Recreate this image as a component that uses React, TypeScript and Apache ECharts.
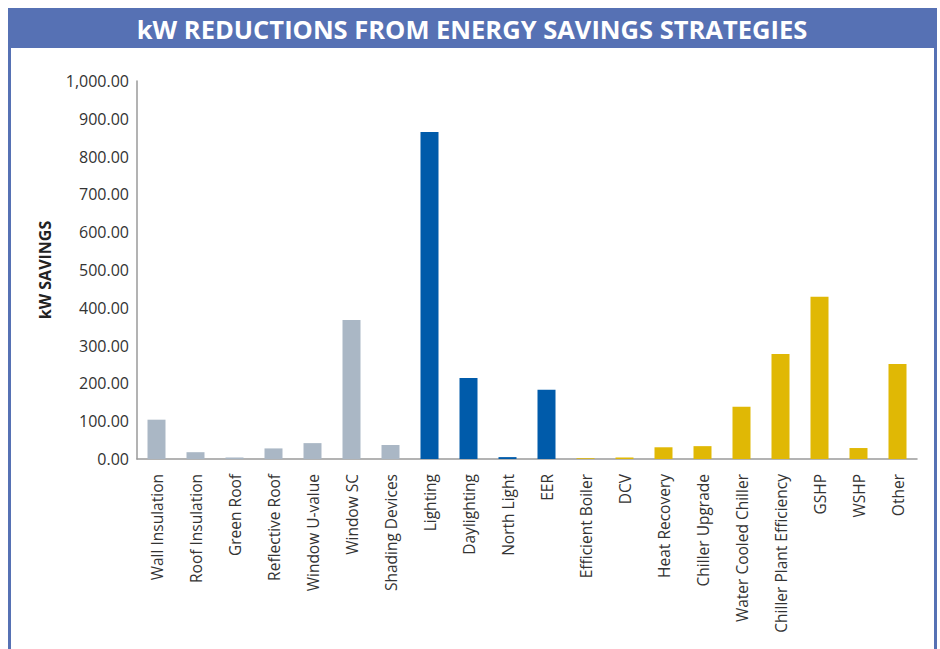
import React, { useEffect, useRef } from "react";
import * as echarts from "echarts";

const titleText = "kW REDUCTIONS FROM ENERGY SAVINGS STRATEGIES";
const yAxisName = "kW SAVINGS";

const categories = [
  "Wall Insulation",
  "Roof Insulation",
  "Green Roof",
  "Reflective Roof",
  "Window U-value",
  "Window SC",
  "Shading Devices",
  "Lighting",
  "Daylighting",
  "North Light",
  "EER",
  "Efficient Boiler",
  "DCV",
  "Heat Recovery",
  "Chiller Upgrade",
  "Water Cooled Chiller",
  "Chiller Plant Efficiency",
  "GSHP",
  "WSHP",
  "Other",
];

const values = [
  104, 18, 4, 28, 42, 368, 37, 865, 214, 5, 183, 2, 4, 31, 34, 138, 278, 429, 29, 251,
];

// group index per category: 0 = envelope, 1 = lighting, 2 = HVAC
const groups = [0, 0, 0, 0, 0, 0, 0, 1, 1, 1, 1, 2, 2, 2, 2, 2, 2, 2, 2, 2];
const groupColors = ["#AAB7C5", "#005BAA", "#E0B805"];

const yMin = 0;
const yMax = 1000;
const yInterval = 100;

export default function App() {
  const ref = useRef<HTMLDivElement>(null);

  useEffect(() => {
    if (!ref.current) return;
    const chart = echarts.init(ref.current, null, { renderer: "svg" });
    const frameColor = "#5671B4";
    chart.setOption({
      animation: false,
      backgroundColor: "#ffffff",
      graphic: [
        {
          type: "rect",
          shape: { x: 8, y: 8, width: 929, height: 40 },
          style: { fill: frameColor },
          silent: true,
        },
        {
          type: "text",
          x: 472,
          y: 29,
          style: {
            text: titleText,
            fill: "#ffffff",
            font: "bold 25.5px 'Open Sans'",
            textAlign: "center",
            textVerticalAlign: "middle",
          },
          silent: true,
        },
        {
          type: "rect",
          shape: { x: 8, y: 48, width: 3, height: 610 },
          style: { fill: frameColor },
          silent: true,
        },
        {
          type: "rect",
          shape: { x: 934, y: 48, width: 3, height: 610 },
          style: { fill: frameColor },
          silent: true,
        },
      ],
      grid: {
        left: 137,
        right: 23,
        top: 81,
        bottom: 190,
        containLabel: false,
      },
      xAxis: {
        type: "category",
        data: categories,
        axisLine: { show: true, lineStyle: { color: "#9a9a9a", width: 1.5 } },
        axisTick: { show: false },
        axisLabel: {
          rotate: 90,
          margin: 15,
          interval: 0,
          color: "#333333",
          fontFamily: "Open Sans",
          fontSize: 15.5,
        },
      },
      yAxis: {
        type: "value",
        min: yMin,
        max: yMax,
        interval: yInterval,
        name: yAxisName,
        nameLocation: "middle",
        nameRotate: 90,
        nameGap: 84,
        nameTextStyle: {
          color: "#222222",
          fontFamily: "Open Sans",
          fontWeight: "bold",
          fontSize: 16,
        },
        axisLine: { show: true, lineStyle: { color: "#9a9a9a", width: 1.5 } },
        axisTick: { show: false },
        splitLine: { show: false },
        axisLabel: {
          margin: 8,
          color: "#333333",
          fontFamily: "Open Sans",
          fontSize: 16,
          formatter: (v: number) =>
            v.toLocaleString("en-US", {
              minimumFractionDigits: 2,
              maximumFractionDigits: 2,
            }),
        },
      },
      series: [
        {
          type: "bar",
          barWidth: 18,
          data: values.map((v, i) => ({
            value: v,
            itemStyle: { color: groupColors[groups[i]] },
          })),
        },
      ],
    });
    return () => chart.dispose();
  }, []);

  return (
    <div
      ref={ref}
      style={{ position: "fixed", left: 0, top: 0, width: 940, height: 649 }}
    />
  );
}
